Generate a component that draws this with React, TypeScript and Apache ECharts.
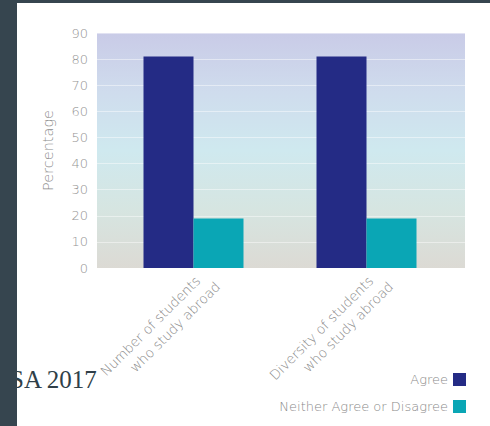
import React, { useEffect, useRef } from "react";
import * as echarts from "echarts";

const categories = ["Number of students\nwho study abroad", "Diversity of students\nwho study abroad"];
const agreeValues = [81, 81];
const neutralValues = [19, 19];
const yTicks = [0, 10, 20, 30, 40, 50, 60, 70, 80, 90];
const seriesNames = ["Agree", "Neither Agree or Disagree"];

export default function App() {
  const ref = useRef<HTMLDivElement>(null);
  useEffect(() => {
    document.body.style.margin = "0";
    const chart = echarts.init(ref.current!, null, { renderer: "svg" });
    const font = "'DejaVu Sans', sans-serif";
    const labelColor = "#8a8a8a";
    chart.setOption({
      animation: false,
      backgroundColor: "#ffffff",
      grid: [
        {
          left: 97,
          right: 25,
          top: 33,
          bottom: 158,
          show: true,
          borderWidth: 0,
          backgroundColor: new echarts.graphic.LinearGradient(0, 0, 0, 1, [
            { offset: 0, color: "#c9cbe7" },
            { offset: 0.25, color: "#cfdced" },
            { offset: 0.5, color: "#cfe9ef" },
            { offset: 0.75, color: "#d6e5e1" },
            { offset: 1, color: "#dcdad4" },
          ]),
        },
        { left: 107, right: 37, top: 33, bottom: 158 },
      ],
      legend: {
        orient: "vertical",
        right: 19,
        top: 368,
        align: "right",
        itemWidth: 13,
        itemHeight: 13,
        itemGap: 14,
        itemStyle: { borderWidth: 0 },
        icon: "rect",
        textStyle: { color: labelColor, fontSize: 13, fontFamily: font, fontWeight: 200 },
        data: seriesNames,
      },
      xAxis: [
        {
          type: "category",
          gridIndex: 0,
          data: categories,
          show: false,
        },
        {
          type: "category",
          gridIndex: 1,
          data: categories,
          axisLine: { show: false },
          axisTick: { show: false },
          axisLabel: {
            rotate: 45,
            interval: 0,
            align: "right",
            verticalAlign: "top",
            margin: -8,
            padding: [7, 0, 0, 0],
            color: labelColor,
            fontSize: 13.5,
            fontFamily: font,
            fontWeight: 200,
            formatter: (v: string) => {
              const [l1, l2] = v.split("\n");
              return `{a|${l1}}\n{b|${l2}}`;
            },
            rich: {
              a: { color: labelColor, fontSize: 13.5, fontFamily: font, fontWeight: 200, lineHeight: 18, padding: [0, 10, 0, 0] },
              b: { color: labelColor, fontSize: 13.5, fontFamily: font, fontWeight: 200, lineHeight: 18 },
            },
          },
        },
      ],
      yAxis: [
        {
          type: "value",
          gridIndex: 0,
          min: yTicks[0],
          max: yTicks[yTicks.length - 1],
          interval: 10,
          name: "Percentage",
          nameLocation: "middle",
          nameGap: 42,
          nameTextStyle: { color: labelColor, fontSize: 14.5, fontFamily: font, fontWeight: 200 },
          axisLine: { show: false },
          axisTick: { show: false },
          axisLabel: { color: "#949494", fontSize: 13, fontFamily: font, fontWeight: 200, margin: 9 },
          splitLine: { show: true, lineStyle: { color: "rgba(255,255,255,0.45)", width: 1 } },
        },
        {
          type: "value",
          gridIndex: 1,
          min: yTicks[0],
          max: yTicks[yTicks.length - 1],
          interval: 10,
          show: false,
          splitLine: { show: false },
        },
      ],
      series: [
        {
          name: seriesNames[0],
          type: "bar",
          xAxisIndex: 1,
          yAxisIndex: 1,
          data: agreeValues,
          barWidth: 50,
          barGap: "0%",
          itemStyle: { color: "#242b85" },
        },
        {
          name: seriesNames[1],
          type: "bar",
          xAxisIndex: 1,
          yAxisIndex: 1,
          data: neutralValues,
          barWidth: 50,
          barGap: "0%",
          itemStyle: { color: "#0aa6b5" },
        },
      ],
      graphic: [
        {
          type: "text",
          left: 10,
          top: 367,
          z: 90,
          style: {
            text: "SA 2017",
            fill: "#2f3f48",
            font: "25px 'Liberation Serif', serif",
          },
        },
        {
          type: "rect",
          z: 100,
          shape: { x: 0, y: 0, width: 17, height: 426 },
          style: { fill: "#36454f" },
        },
        {
          type: "rect",
          z: 100,
          shape: { x: 0, y: 0, width: 490, height: 3 },
          style: { fill: "#36454f" },
        },
      ],
    });
    return () => chart.dispose();
  }, []);
  return <div ref={ref} style={{ position: "absolute", left: 0, top: 0, width: 490, height: 426 }} />;
}
